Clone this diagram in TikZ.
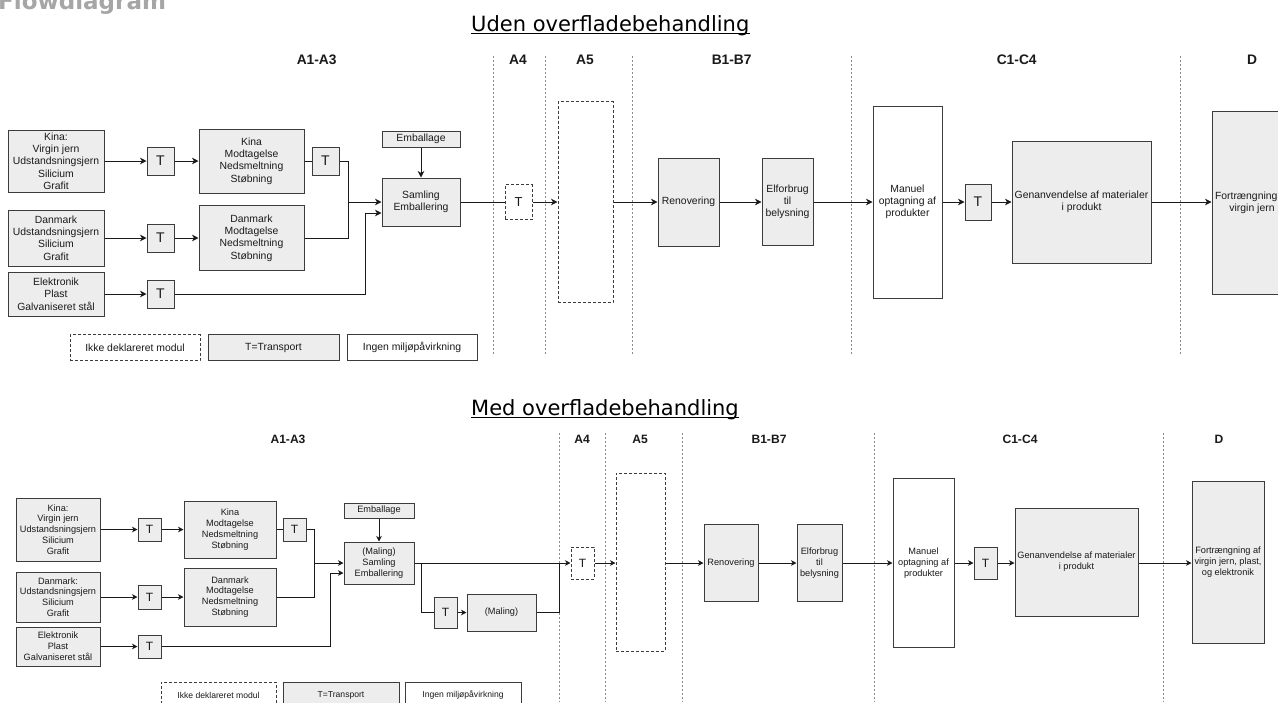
\documentclass[tikz,border=0pt]{standalone}
\usepackage{fontspec}
\setmainfont{Liberation Sans}
\newfontfamily\titlefont{DejaVu Sans}
\usetikzlibrary{arrows.meta}
\definecolor{boxline}{HTML}{3C3C3C}
\definecolor{boxfill}{HTML}{EDEDED}
\definecolor{ink}{HTML}{1A1A1A}
\definecolor{rule}{HTML}{8A8A8A}
\definecolor{brand}{HTML}{A6A6A6}
\tikzset{
  wh/.style 2 args={minimum width=#1pt,minimum height=#2pt},
  proc/.style={draw=boxline,fill=boxfill,line width=1pt,inner sep=1pt,align=center,text=ink},
  neutral/.style={proc,fill=white},
  undecl/.style={proc,fill=white,dash pattern=on 3pt off 2pt},
  uden/.style={font=\fontsize{10.4}{12.3}\selectfont},
  med/.style={font=\fontsize{9.2}{10.8}\selectfont},
  keymed/.style={font=\fontsize{8.6}{10}\selectfont},
  tuden/.style={font=\fontsize{14}{16}\selectfont},
  tmed/.style={font=\fontsize{12}{14}\selectfont},
  colhead/.style={font=\bfseries\fontsize{#1}{#1}\selectfont,text=ink},
  divider/.style={draw=rule,line width=0.9pt,dash pattern=on 2pt off 2pt},
  flow/.style={-{Stealth[length=#1,width=#1,inset=0.3*#1]},line width=0.9pt,draw=ink},
  flow/.default=6.5pt,
  link/.style={line width=0.9pt,draw=ink},
  heading/.style={font=\titlefont\fontsize{21}{21}\selectfont,inner sep=0pt,anchor=base west,text=black},
}
\begin{document}
\begin{tikzpicture}[x=1pt,y=-1pt]
    \path[use as bounding box,clip] (0,0) rectangle (1278,702);
    \fill[white] (0,0) rectangle (1278,702);
    \node[font=\titlefont\bfseries\fontsize{23}{23}\selectfont,text=brand,inner sep=0pt,anchor=base west] (brand) at (-2,9) {Flowdiagram};

    % Uden overfladebehandling
    \node[heading] (titleA) at (471,31) {Uden overfladebehandling};
    \draw[line width=1.2pt] ([yshift=-2.5pt]titleA.base west) -- ([yshift=-2.5pt]titleA.base east);
    \foreach \x/\t [count=\i] in {316.7/A1-A3,518/A4,585/A5,731.7/B1-B7,1016.7/C1-C4,1252/D}
      \node[colhead=13.8] (hA\i) at (\x,60) {\t};
    \foreach \x in {493,545,632,851,1180} \draw[divider] (\x,56) -- (\x,354);

    \node[proc,uden,wh={96}{62}] (kinaA) at (56,161) {Kina:\\Virgin jern\\Udstandsningsjern\\Silicium\\Grafit};
    \node[proc,tuden,wh={27}{28}] (t1A) at (160.5,161) {T};
    \node[proc,uden,wh={105}{64}] (kinaMA) at (251.5,161) {Kina\\Modtagelse\\Nedsmeltning\\Støbning};
    \node[proc,tuden,wh={27}{28}] (tkA) at (325.5,161) {T};
    \node[proc,uden,wh={78}{16}] (embA) at (421,139) {Emballage};
    \node[proc,uden,wh={78}{48}] (samA) at (421,202) {Samling\\Emballering};
    \node[proc,uden,wh={96}{56}] (dkA) at (56,238) {Danmark\\Udstandsningsjern\\Silicium\\Grafit};
    \node[proc,tuden,wh={27}{28}] (t2A) at (160.5,238) {T};
    \node[proc,uden,wh={105}{65}] (dkMA) at (251.5,238) {Danmark\\Modtagelse\\Nedsmeltning\\Støbning};
    \node[proc,uden,wh={96}{44}] (elA) at (56,294) {Elektronik\\Plast\\Galvaniseret stål};
    \node[proc,tuden,wh={27}{28}] (t3A) at (160.5,294) {T};
    \coordinate (jA) at (348,202);
    \coordinate (kA) at (365,213);

    \node[undecl,font=\fontsize{13}{15}\selectfont,wh={27}{35}] (tA4A) at (518.5,202) {T};
    \node[undecl,wh={55}{201}] (a5A) at (585.5,202) {};
    \node[proc,uden,wh={61}{88}] (renA) at (688.5,202) {Renovering};
    \node[proc,uden,wh={51}{87}] (elfA) at (787.5,202) {Elforbrug\\til\\belysning};
    \node[neutral,uden,wh={69}{192}] (manA) at (907.5,202) {Manuel\\optagning af\\produkter};
    \node[proc,tuden,wh={26}{36}] (tCA) at (978,202) {T};
    \node[proc,uden,wh={139}{122}] (genA) at (1081.5,202) {Genanvendelse af materialer\\i produkt};
    \node[proc,uden,wh={80}{183}] (fortA) at (1252,202.5) {Fortrængning af\\virgin jern};

    \node[undecl,uden,wh={130}{26}] (keyUA) at (135,347.5) {Ikke deklareret modul};
    \node[proc,uden,wh={131}{26}] (keyTA) at (273.5,347.5) {T=Transport};
    \node[neutral,uden,wh={130}{26}] (keyNA) at (412,347.5) {Ingen miljøpåvirkning};

    \draw[flow] (kinaA) -- (t1A);
    \draw[flow] (t1A) -- (kinaMA);
    \draw[link] (kinaMA) -- (tkA);
    \draw[flow] (tkA.east) -| (jA) -- (samA.west);
    \draw[link] (dkMA.east) -| (jA);
    \draw[flow] (dkA) -- (t2A);
    \draw[flow] (t2A) -- (dkMA);
    \draw[flow] (elA) -- (t3A);
    \draw[flow] (t3A.east) -| (kA) -- (samA.west |- kA);
    \draw[flow] (embA) -- (samA);
    \draw[link] (samA) -- (tA4A);
    \draw[flow] (tA4A) -- (a5A);
    \draw[flow] (a5A) -- (renA);
    \draw[flow] (renA) -- (elfA);
    \draw[flow] (elfA) -- (manA);
    \draw[flow] (manA) -- (tCA);
    \draw[flow] (tCA) -- (genA);
    \draw[flow] (genA) -- (fortA.west |- genA);

    % Med overfladebehandling
    \node[heading] (titleB) at (471,415) {Med overfladebehandling};
    \draw[line width=1.2pt] ([yshift=-2.5pt]titleB.base west) -- ([yshift=-2.5pt]titleB.base east);
    \foreach \x/\t [count=\i] in {288/A1-A3,582/A4,640/A5,769/B1-B7,1020/C1-C4,1219/D}
      \node[colhead=12.1] (hB\i) at (\x,439) {\t};
    \foreach \x in {559,605,682,874,1163} \draw[divider] (\x,433) -- (\x,702);

    \node[proc,med,wh={84}{63}] (kinaB) at (58,529.5) {Kina:\\Virgin jern\\Udstandsningsjern\\Silicium\\Grafit};
    \node[proc,tmed,wh={23}{23}] (t1B) at (149.5,529.5) {T};
    \node[proc,med,wh={92}{57}] (kinaMB) at (230,529.5) {Kina\\Modtagelse\\Nedsmeltning\\Støbning};
    \node[proc,tmed,wh={23}{23}] (tkB) at (294.5,529.5) {T};
    \node[proc,med,wh={70}{15}] (embB) at (379,510.5) {Emballage};
    \node[proc,med,wh={70}{42}] (samB) at (379,563) {(Maling)\\Samling\\Emballering};
    \node[proc,med,wh={84}{50}] (dkB) at (58,597) {Danmark:\\Udstandsningsjern\\Silicium\\Grafit};
    \node[proc,tmed,wh={23}{24}] (t2B) at (149.5,597) {T};
    \node[proc,med,wh={92}{58}] (dkMB) at (230,597) {Danmark\\Modtagelse\\Nedsmeltning\\Støbning};
    \node[proc,med,wh={84}{39}] (elB) at (58,646.5) {Elektronik\\Plast\\Galvaniseret stål};
    \node[proc,tmed,wh={23}{23}] (t3B) at (149.5,646.5) {T};
    \coordinate (jB) at (314,563);
    \coordinate (kB) at (330,573);
    \coordinate (bB) at (421,563);
    \coordinate (cB) at (559,563);

    \node[proc,tmed,wh={23}{31}] (tMalB) at (445.5,612.5) {T};
    \node[proc,med,wh={69}{37}] (malB) at (501.5,612.5) {(Maling)};
    \node[undecl,tmed,wh={23}{32}] (tA4B) at (582.5,563) {T};
    \node[undecl,wh={49}{178}] (a5B) at (640.5,562) {};
    \node[proc,med,wh={54}{77}] (renB) at (731,563) {Renovering};
    \node[proc,med,wh={45}{77}] (elfB) at (819.5,563) {Elforbrug\\til\\belysning};
    \node[neutral,med,wh={61}{169}] (manB) at (923.5,563) {Manuel\\optagning af\\produkter};
    \node[proc,tmed,wh={23}{32}] (tCB) at (985.5,563) {T};
    \node[proc,med,wh={123}{108}] (genB) at (1076.5,562) {Genanvendelse af materialer\\i produkt};
    \node[proc,med,wh={72}{162}] (fortB) at (1228,562) {Fortrængning af\\virgin jern, plast,\\og elektronik};

    \node[undecl,keymed,wh={115}{26}] (keyUB) at (218.5,695) {Ikke deklareret modul};
    \node[proc,keymed,wh={116}{26}] (keyTB) at (341,695) {T=Transport};
    \node[neutral,keymed,wh={116}{26}] (keyNB) at (463,695) {Ingen miljøpåvirkning};

    \draw[flow=5.5pt] (kinaB) -- (t1B);
    \draw[flow=5.5pt] (t1B) -- (kinaMB);
    \draw[link] (kinaMB) -- (tkB);
    \draw[flow=5.5pt] (tkB.east) -| (jB) -- (samB.west);
    \draw[link] (dkMB.east) -| (jB);
    \draw[flow=5.5pt] (dkB) -- (t2B);
    \draw[flow=5.5pt] (t2B) -- (dkMB);
    \draw[flow=5.5pt] (elB) -- (t3B);
    \draw[flow=5.5pt] (t3B.east) -| (kB) -- (samB.west |- kB);
    \draw[flow=5.5pt] (embB) -- (samB);
    \draw[flow=5.5pt] (samB) -- (tA4B);
    \draw[link] (bB) |- (tMalB);
    \draw[flow=5.5pt] (tMalB) -- (malB);
    \draw[link] (malB.east) -| (cB);
    \draw[flow=5.5pt] (tA4B) -- (a5B.west |- tA4B);
    \draw[flow=5.5pt] (a5B.east |- renB) -- (renB);
    \draw[flow=5.5pt] (renB) -- (elfB);
    \draw[flow=5.5pt] (elfB) -- (manB);
    \draw[flow=5.5pt] (manB) -- (tCB);
    \draw[flow=5.5pt] (tCB) -- (genB.west |- tCB);
    \draw[flow=5.5pt] (genB.east |- tCB) -- (fortB.west |- tCB);
\end{tikzpicture}
\end{document}
